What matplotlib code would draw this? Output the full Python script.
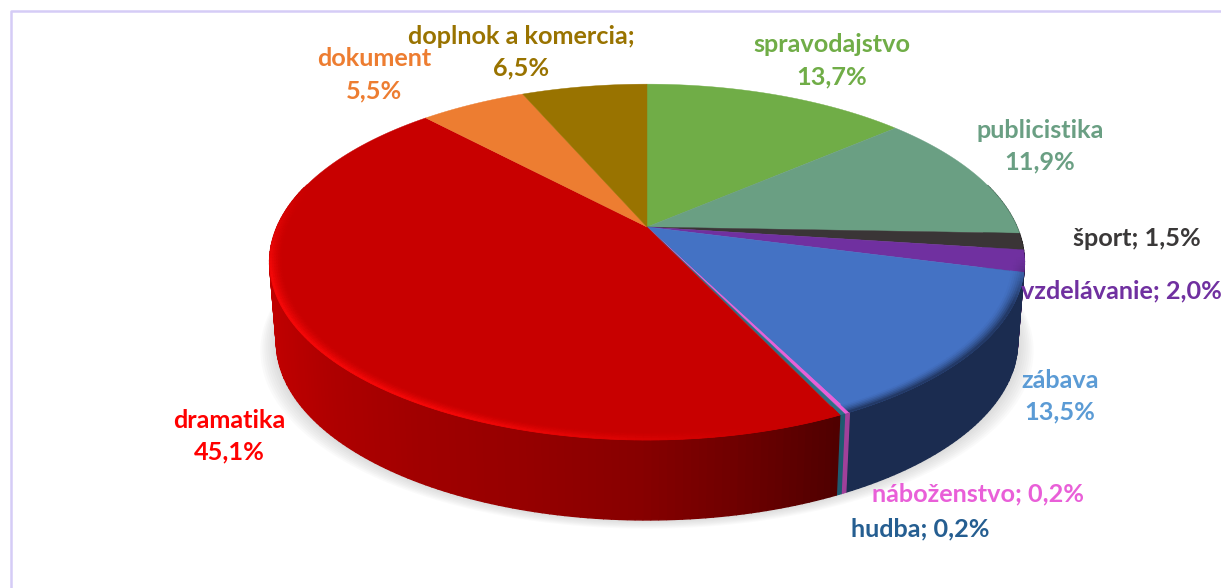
#!/usr/bin/env python3
# -*- coding: utf-8 -*-
import numpy as np
import matplotlib
matplotlib.use('Agg')
import matplotlib.pyplot as plt
from matplotlib.colors import to_rgb

# data, clockwise from 12 o'clock
categories = ['spravodajstvo', 'publicistika', 'šport', 'vzdelávanie', 'zábava',
              'náboženstvo', 'hudba', 'dramatika', 'dokument', 'doplnok a komercia']
shares = [13.7, 11.9, 1.5, 2.0, 13.5, 0.2, 0.2, 45.1, 5.5, 6.5]
share_labels = ['13,7%', '11,9%', '1,5%', '2,0%', '13,5%', '0,2%', '0,2%', '45,1%', '5,5%', '6,5%']

top_colors = ['#70AD47', '#6A9F83', '#3A3536', '#7030A0', '#4472C4',
              '#E95FD8', '#2E6E85', '#C80000', '#ED7D31', '#997300']
side_colors = ['#3F6228', '#3C5C4B', '#1E1B1C', '#3A1A55', '#1B2C50',
               '#A0409A', '#1E5A70', None, '#8A4A1C', '#5A4300']
text_colors = ['#70AD47', '#6A9F83', '#3A3838', '#7030A0', '#5B9BD5',
               '#E95FD8', '#255E91', '#FF0000', '#ED7D31', '#997300']

# text, x, y (pixels) for each label
label_layout = [('{}\n{}', 832, 61), ('{}\n{}', 1040, 146), ('{}; {}', 1137, 239),
                ('{}; {}', 1121, 291), ('{}\n{}', 1060, 396), ('{}; {}', 978, 494),
                ('{}; {}', 920, 529), ('{}\n{}', 229, 436), ('{}\n{}', 374, 75),
                ('{};\n{}', 521, 52)]
LINE_GAP = 32

# red side gets darker to the right
red_x = [268, 330, 420, 520, 640, 740, 835]
red_c = ['#C00000', '#AE0000', '#A00000', '#960000', '#870000', '#6E0000', '#500000']

W, H = 1221, 588
CX, CY = 647, 227
A, B, K = 370, 171, 0.197
DEPTH = 80


def project(theta, r=1.0, drop=0.0):
    # perspective view of the pie plane, theta clockwise from top
    X = r * np.sin(theta)
    Y = r * np.cos(theta)
    d = 1 + K * Y
    shrink = 1 - 0.018 * drop / DEPTH
    return CX + shrink * A * X / d, CY - B * Y / d + drop


def mix(c1, c2, t):
    c1 = np.array(to_rgb(c1))
    c2 = np.array(to_rgb(c2))
    return tuple(c1 + (c2 - c1) * t)


def red_side(x):
    rgb = [to_rgb(c) for c in red_c]
    return tuple(np.interp(x, red_x, [c[i] for c in rgb]) for i in range(3))


fig = plt.figure(figsize=(W / 100, H / 100), dpi=100)
ax = fig.add_axes([0, 0, 1, 1])
ax.set_xlim(0, W)
ax.set_ylim(H, 0)
ax.axis('off')

# chart frame
ax.plot([10.5, 10.5, W], [H, 11, 11], color='#D5CCF6', lw=1.8, zorder=1)

fractions = np.array(shares) / np.sum(shares)
edges = np.concatenate([[0], np.cumsum(fractions)]) * 2 * np.pi

# soft shadow under the pie
t_all = np.linspace(0, 2 * np.pi, 361)
for spread in np.arange(16, 0, -2):
    sx, sy = project(t_all, drop=DEPTH)
    sx = CX + (sx - CX) * (1 + spread / 370)
    sy = sy + spread * 0.55
    ax.fill(sx, sy, color='#808080', alpha=0.035, lw=0, zorder=2)

# sides, the top face covers whatever is behind
for i in range(len(shares)):
    n = max(2, int((edges[i + 1] - edges[i]) / np.radians(1)) + 1)
    t = np.linspace(edges[i], edges[i + 1], n + 1)
    for a, b in zip(t[:-1], t[1:]):
        if np.cos(0.5 * (a + b)) > 0.25:
            continue
        x1, y1 = project(a)
        x2, y2 = project(b)
        x3, y3 = project(b, drop=DEPTH)
        x4, y4 = project(a, drop=DEPTH)
        c = side_colors[i] if side_colors[i] else red_side(0.5 * (x1 + x2))
        ax.fill([x1, x2, x3, x4], [y1, y2, y3, y4], color=c, ec=c, lw=1.0, zorder=3)

# top face
for i in range(len(shares)):
    t = np.linspace(edges[i], edges[i + 1], 120)
    x, y = project(t)
    ax.fill(np.r_[CX, x], np.r_[CY, y], color=top_colors[i], lw=0.3, zorder=4)

# bevel on the rim: bright on the red part, dark on the blue part
rings = np.linspace(0.965, 1.0, 8)
for i in range(len(shares)):
    n = max(2, int((edges[i + 1] - edges[i]) / np.radians(1)) + 1)
    t = np.linspace(edges[i], edges[i + 1], n + 1)
    for a, b in zip(t[:-1], t[1:]):
        deg = np.degrees(0.5 * (a + b))
        if deg < 100 or deg > 285:
            continue
        if categories[i] == 'dramatika':
            # strongest on the left, fades towards the front
            s = np.clip((deg - 165) / 40, 0, 1) * np.clip((285 - deg) / 30, 0, 1)
            tip = mix(top_colors[i], '#FF0A0A', s)
        elif categories[i] in ('zábava', 'vzdelávanie'):
            tip = mix(top_colors[i], '#101830', 0.8 * np.clip((deg - 100) / 15, 0, 1))
        else:
            continue
        for r1, r2 in zip(rings[:-1], rings[1:]):
            w = ((r1 - rings[0]) / (rings[-1] - rings[0])) ** 1.5
            c = mix(top_colors[i], tip, w)
            x1, y1 = project(a, r1)
            x2, y2 = project(b, r1)
            x3, y3 = project(b, r2)
            x4, y4 = project(a, r2)
            ax.fill([x1, x2, x3, x4], [y1, y2, y3, y4], color=c, ec=c, lw=0.6, zorder=5)

# labels, one text per line so their boxes stay apart
for i, (fmt, lx, ly) in enumerate(label_layout):
    lines = fmt.format(categories[i], share_labels[i]).split('\n')
    y0 = ly - LINE_GAP * (len(lines) - 1) / 2
    for j, line in enumerate(lines):
        ax.text(lx, y0 + j * LINE_GAP, line, color=text_colors[i],
                family='Lato', weight='bold', fontsize=18.2, ha='center', va='center',
                zorder=6)

fig.savefig('out.png', dpi=100, facecolor='white')
